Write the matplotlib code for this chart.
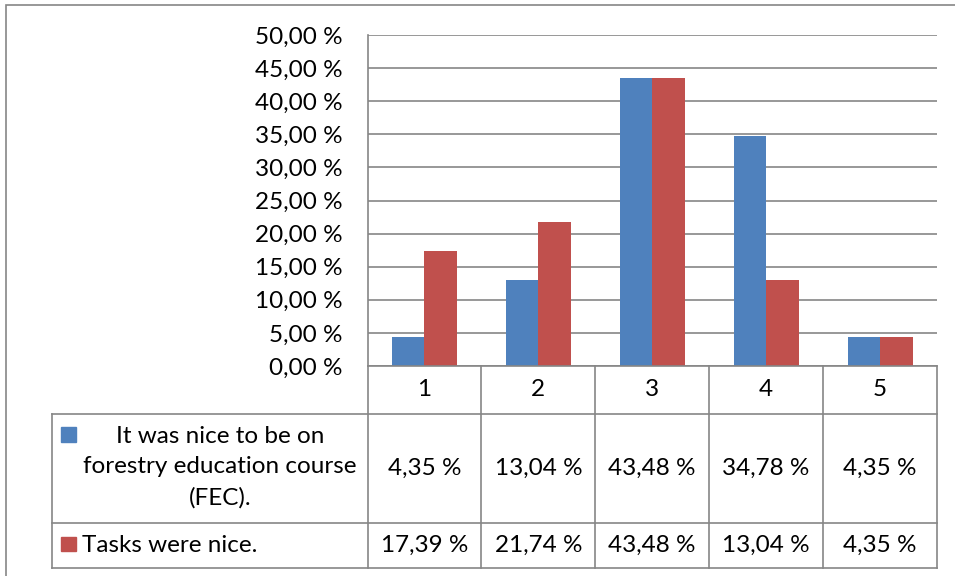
import matplotlib
matplotlib.use("Agg")
import matplotlib.pyplot as plt
from matplotlib.lines import Line2D
from matplotlib.patches import Rectangle

categories = ["1", "2", "3", "4", "5"]
series_names = ["It was nice to be on\nforestry education course\n(FEC).", "Tasks were nice."]
nice_course = [4.35, 13.04, 43.48, 34.78, 4.35]
tasks_nice = [17.39, 21.74, 43.48, 13.04, 4.35]
y_ticks = [0, 5, 10, 15, 20, 25, 30, 35, 40, 45, 50]

BLUE = "#4F81BD"
RED = "#C0504D"
GRID = "#868686"
FONT = "Lato"
FS = 17.5

W, H = 955, 576


def fx(px):
    return px / W


def fy(py):
    return 1 - py / H


def pct(v):
    return f"{v:.2f}".replace(".", ",") + " %"


def main():
    fig = plt.figure(figsize=(W / 100, H / 100), dpi=100)
    plt.rcParams["font.family"] = [FONT, "DejaVu Sans"]

    # outer chart border (left/top visible, rest cropped)
    fig.add_artist(Rectangle((fx(6), fy(1000)), fx(2000), fy(5) - fy(1000),
                             transform=fig.transFigure, fill=False,
                             edgecolor=GRID, linewidth=1.2))

    x_left, x_right = 367.5, 937
    y_top, y_bot = 35, 366
    ax = fig.add_axes([fx(x_left), fy(y_bot), fx(x_right - x_left), fy(y_top) - fy(y_bot)])

    n = len(categories)
    w = 1 / 3.5
    xs = range(n)
    ax.bar([i - w / 2 for i in xs], nice_course, width=w, color=BLUE, zorder=3)
    ax.bar([i + w / 2 for i in xs], tasks_nice, width=w, color=RED, zorder=3)

    ax.set_xlim(-0.5, n - 0.5)
    ax.set_ylim(0, 50)
    ax.set_yticks(y_ticks)
    ax.set_yticklabels([pct(v) for v in y_ticks], fontsize=FS, color="black")
    ax.tick_params(axis="y", length=0, pad=18)
    ax.set_xticks([])
    ax.grid(axis="y", color=GRID, linewidth=1.2, zorder=0)
    for side in ["top", "right", "bottom"]:
        ax.spines[side].set_visible(False)
    ax.spines["left"].set_color(GRID)
    ax.spines["left"].set_linewidth(1.2)

    # data table below the plot
    col_x = [x_left + (x_right - x_left) * i / n for i in range(n + 1)]
    row_y = [y_bot, 414, 523, 568]
    tbl_left = 52

    def hline(y, x0, x1):
        fig.add_artist(Line2D([fx(x0), fx(x1)], [fy(y), fy(y)], color=GRID, linewidth=1.2))

    def vline(x, y0, y1):
        fig.add_artist(Line2D([fx(x), fx(x)], [fy(y0), fy(y1)], color=GRID, linewidth=1.2))

    hline(row_y[0], x_left, x_right)
    for y in row_y[1:]:
        hline(y, tbl_left, x_right)
    for x in col_x:
        vline(x, row_y[0], row_y[3])
    vline(tbl_left, row_y[1], row_y[3])

    for i, cat in enumerate(categories):
        cx = (col_x[i] + col_x[i + 1]) / 2
        fig.text(fx(cx), fy((row_y[0] + row_y[1]) / 2), cat, ha="center", va="center", fontsize=FS)
        fig.text(fx(cx), fy((row_y[1] + row_y[2]) / 2), pct(nice_course[i]), ha="center", va="center", fontsize=FS)
        fig.text(fx(cx), fy((row_y[2] + row_y[3]) / 2), pct(tasks_nice[i]), ha="center", va="center", fontsize=FS)

    # legend keys
    fig.add_artist(Rectangle((fx(61), fy(442)), fx(15), fy(427) - fy(442),
                             transform=fig.transFigure, color=BLUE))
    fig.add_artist(Rectangle((fx(61), fy(551)), fx(15), fy(537) - fy(551),
                             transform=fig.transFigure, color=RED))
    fig.text(fx(220), fy(467), series_names[0], ha="center", va="center",
             fontsize=FS, multialignment="center", linespacing=1.55)
    fig.text(fx(82), fy(545), series_names[1], ha="left", va="center", fontsize=FS)

    fig.savefig("out.png", dpi=100)


if __name__ == "__main__":
    main()
